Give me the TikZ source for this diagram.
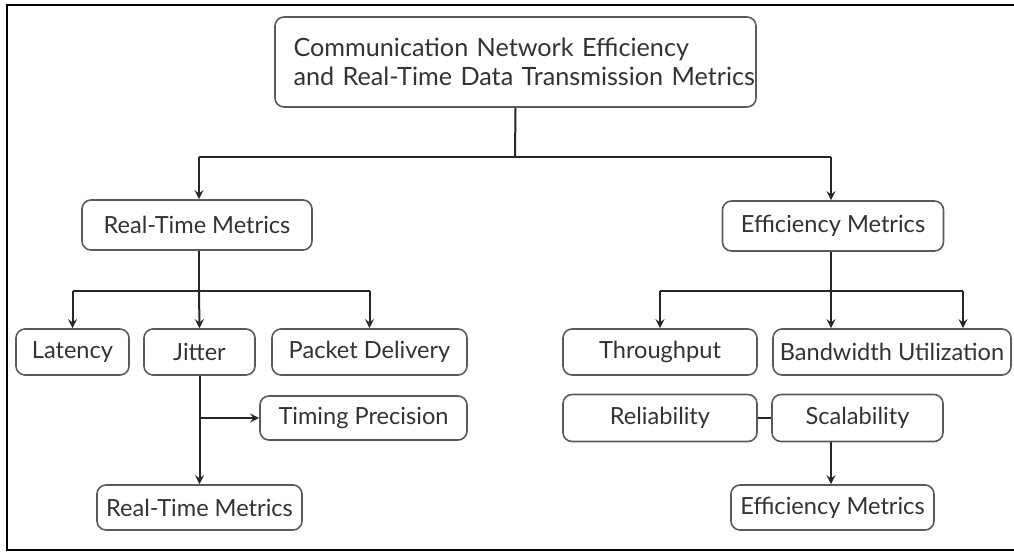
\documentclass[tikz,border=0pt]{standalone}
\usepackage{fontspec}
\setmainfont{Lato}
\usepackage{xcolor}
\usetikzlibrary{arrows}
\definecolor{boxline}{HTML}{5A5A5A}
\definecolor{txt}{HTML}{333333}
\tikzset{
  metric/.style={draw=boxline, line width=0.8pt, rounded corners=4.5pt, text=txt,
    font=\fontsize{11.8}{14}\selectfont, inner sep=0pt, minimum height=23pt},
  link/.style={line width=1pt, black!85},
  arr/.style={link, -stealth}
}
\begin{document}
\begin{tikzpicture}[x=0.5pt, y=-0.5pt]
    \useasboundingbox (0,0) rectangle (1014,552);
    % cadre
    \draw[line width=1.3pt] (1014,5) -- (7,5) -- (7,550) -- (1014,550);
    % boites
    \node[metric, minimum width=240.5pt, minimum height=45pt, align=left, text width=222pt,
          font=\fontsize{12.6}{14.5}\selectfont] (top) at (515.5,62)
          {\mbox{Communication Network Efficiency}\\\mbox{and Real-Time Data Transmission Metrics}};
    \node[metric, minimum width=115pt, minimum height=25pt] (rtm) at (197,225) {Real-Time Metrics};
    \node[metric, minimum width=110.5pt, minimum height=25pt] (eff) at (833,226) {Efficiency Metrics};
    \node[metric, minimum width=56.5pt] (lat) at (72.5,352) {Latency};
    \node[metric, minimum width=55.5pt] (jit) at (199.5,352) {Jitter};
    \node[metric, minimum width=97.5pt] (pkt) at (369.5,352) {Packet Delivery};
    \node[metric, minimum width=103.5pt, minimum height=22pt] (tim) at (363.5,418) {Timing Precision};
    \node[metric, minimum width=102.5pt, minimum height=22.5pt] (rtmb) at (199.5,507.5) {Real-Time Metrics};
    \node[metric, minimum width=97pt] (thr) at (660,352) {Throughput};
    \node[metric, minimum width=119pt] (bw) at (892,352) {Bandwidth Utilization};
    \node[metric, minimum width=97pt, minimum height=23.5pt] (rel) at (660,418) {Reliability};
    \node[metric, minimum width=85.5pt, minimum height=23.5pt] (sca) at (857.5,418) {Scalability};
    \node[metric, minimum width=101.5pt, minimum height=22.5pt] (effb) at (832.5,507.5) {Efficiency Metrics};
    % points de branchement
    \coordinate (tbar) at (515,157);
    \coordinate (rL) at (199,157);
    \coordinate (eR) at (831,157);
    \coordinate (rbar) at (199,291);
    \coordinate (ebar) at (831,291);
    \coordinate (bwR) at (963,291);
    \coordinate (jfork) at (199,418);
    % connecteurs
    \draw[link] (top.south) -- (tbar);
    \draw[link] (rL) -- (eR);
    \draw[arr] (rL) -- (rL |- rtm.north);
    \draw[arr] (eR) -- (eR |- eff.north);
    \draw[link] (rL |- rtm.south) -- (rbar);
    \draw[link] (rbar -| lat) -- (rbar -| pkt);
    \draw[arr] (rbar -| lat) -- (lat.north);
    \draw[arr] (rbar) -- (jit.north);
    \draw[arr] (rbar -| pkt) -- (pkt.north);
    \draw[arr] (jit.south) -- (rtmb.north);
    \draw[arr] (jfork) -- (tim.west);
    \draw[link] (eR |- eff.south) -- (ebar);
    \draw[link] (ebar -| thr) -- (bwR);
    \draw[arr] (ebar -| thr) -- (thr.north);
    \draw[arr] (ebar) -- (ebar |- bw.north);
    \draw[arr] (bwR) -- (bwR |- bw.north);
    \draw[link] (rel.east) -- (sca.west);
    \draw[arr] (ebar |- sca.south) -- (ebar |- effb.north);
\end{tikzpicture}
\end{document}
